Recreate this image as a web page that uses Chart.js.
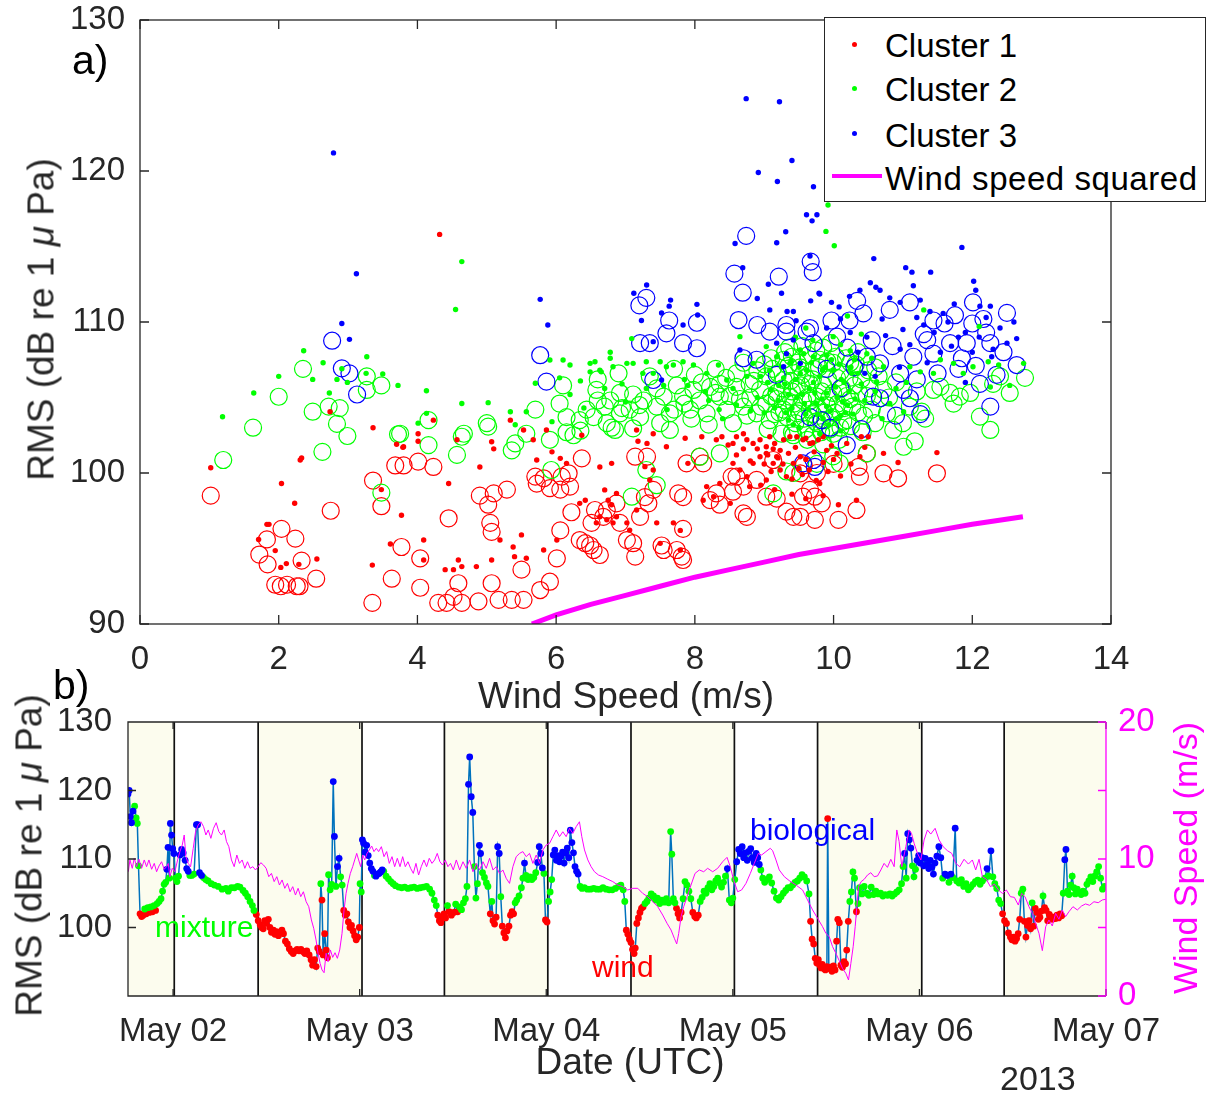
<!DOCTYPE html>
<html>
<head>
<meta charset="utf-8">
<title>RMS vs wind speed</title>
<script src="https://cdn.jsdelivr.net/npm/chart.js@4.4.1/dist/chart.umd.min.js"></script>
<style>
  html, body { margin:0; padding:0; background:#ffffff; }
  #page { position:relative; width:1208px; height:1093px; overflow:hidden; background:#fff;
          font-family:"Liberation Sans", Arial, Helvetica, sans-serif; color:#262626; }
  #page canvas { position:absolute; left:0; }
  .t { position:absolute; white-space:nowrap; line-height:1; }
  .rot { position:absolute; white-space:nowrap; line-height:1; text-align:center; transform:rotate(-90deg); }
  .dot { position:absolute; width:5px; height:5px; border-radius:50%; }
</style>
</head>
<body>
<div id="page">
  <canvas id="chartA" width="1208" height="720" style="top:0;width:1208px;height:720px"></canvas>
  <canvas id="chartB" width="1208" height="433" style="top:660px;width:1208px;height:433px"></canvas>

  <div class="t" style="left:72px;top:40px;font-size:41px;color:#000">a)</div>
  <div class="t" style="left:53px;top:665px;font-size:41px;color:#000">b)</div>

  <div class="rot" style="left:-209px;top:301px;width:500px;height:37px;font-size:37px;">RMS (dB re 1 <i>μ</i> Pa)</div>
  <div class="t" style="left:326px;top:677px;width:600px;text-align:center;font-size:37px;">Wind Speed (m/s)</div>

  <div class="rot" style="left:-221px;top:837px;width:500px;height:37px;font-size:37px;">RMS (dB re 1 <i>μ</i> Pa)</div>
  <div class="rot" style="left:935px;top:841px;width:500px;height:34px;font-size:34px;color:#ff00ff;">Wind Speed (m/s)</div>
  <div class="t" style="left:330px;top:1043px;width:600px;text-align:center;font-size:37px;">Date (UTC)</div>
  <div class="t" style="left:1000px;top:1061px;font-size:34px;">2013</div>

  <div class="t" style="left:155px;top:912px;font-size:30px;color:#00ff00;">mixture</div>
  <div class="t" style="left:592px;top:952px;font-size:30px;color:#ff0000;">wind</div>
  <div class="t" style="left:750px;top:815px;font-size:30px;color:#0000ff;">biological</div>

  <div style="position:absolute;left:824px;top:17px;width:382px;height:185px;box-sizing:border-box;border:1.3px solid #262626;background:#fff;"></div>
  <div class="dot" style="left:852px;top:42px;background:#ff0000;"></div>
  <div class="dot" style="left:852px;top:86px;background:#00ff00;"></div>
  <div class="dot" style="left:852px;top:131px;background:#0000ff;"></div>
  <div style="position:absolute;left:832px;top:174px;width:50px;height:4px;background:#ff00ff;"></div>
  <div class="t" style="left:885px;top:29px;font-size:33px;color:#000;">Cluster 1</div>
  <div class="t" style="left:885px;top:73px;font-size:33px;color:#000;">Cluster 2</div>
  <div class="t" style="left:885px;top:119px;font-size:33px;color:#000;">Cluster 3</div>
  <div class="t" style="left:885px;top:162px;font-size:33px;color:#000;letter-spacing:0.55px;">Wind speed squared</div>
</div>

<script>
// ================= DATA =================
// Panel a) : [wind speed (m/s), RMS (dB)]
const cluster1Dots = [[1.02,100.35],[2.04,99.3],[2.23,98.0],[2.31,100.86],[2.33,101.0],[1.83,96.6],[1.86,96.6],[1.71,95.6],[1.95,94.86],[2.03,93.75],[2.11,94.0],[2.29,93.95],[2.55,94.3],[2.74,104.06],[3.36,103.0],[3.35,93.9],[3.7,101.9],[3.79,101.7],[3.48,98.9],[3.77,97.2],[3.61,95.3],[4.01,102.6],[4.01,102.1],[4.32,115.8],[4.23,103.5],[3.8,101.74],[4.57,102.2],[5.07,102.07],[5.1,101.6],[5.34,103.5],[4.9,100.4],[4.45,99.3],[4.09,95.56],[4.09,94.24],[4.4,93.6],[4.52,93.6],[4.59,94.24],[4.64,93.8],[4.85,93.8],[5.07,94.24],[5.19,95.56],[5.38,95.1],[5.4,94.46],[5.5,95.9],[5.57,94.35],[5.53,102.85],[5.67,102.2],[5.86,102.85],[5.94,101.4],[5.72,100.86],[6.06,100.97],[6.15,100.64],[5.82,94.9],[6.01,95.56],[6.37,102.5],[6.34,97.99],[6.42,98.2],[6.63,100.4],[6.8,100.64],[6.7,98.88],[6.87,98.65],[6.75,98.2],[6.8,97.9],[6.63,97.1],[6.73,96.9],[6.82,96.7],[6.58,96.7],[6.87,97.1],[7.02,96.7],[7.06,96.22],[7.16,97.55],[7.16,102.85],[7.18,102.1],[7.31,101.96],[7.4,102.6],[7.59,101.74],[7.28,100.42],[7.4,100.2],[7.35,99.54],[7.45,96.7],[7.69,96.7],[7.79,96.2],[7.5,95.34],[7.79,94.9],[7.86,102.3],[7.9,100.64],[8.1,102.4],[8.17,99.1],[8.12,98.2],[8.31,102.2],[8.39,102.4],[8.48,101.85],[8.55,101.96],[8.6,102.4],[8.7,102.6],[8.75,102.2],[8.84,101.96],[8.94,102.2],[9.03,101.74],[9.08,102.4],[9.15,101.96],[9.23,101.5],[9.28,102.2],[9.37,102.4],[9.47,102.4],[9.56,102.2],[9.66,101.96],[9.78,102.2],[8.55,100.64],[8.65,100.2],[8.75,99.76],[8.84,100.64],[8.94,101.08],[9.03,101.3],[9.13,100.64],[9.23,100.2],[9.32,99.76],[9.42,100.64],[9.52,101.08],[9.13,101.6],[9.18,101.08],[9.03,99.54],[8.79,99.1],[8.36,99.3],[8.27,98.43],[8.51,97.99],[10.4,102.4],[10.5,102.4],[10.72,101.3],[11.49,101.35],[10.93,100.7],[10.33,98.2],[10.07,97.9],[9.8,99.3],[9.6,102.3],[9.7,102.0],[9.85,102.4],[10.19,101.96],[10.38,101.08],[9.9,101.5],[10.0,100.9],[8.6,101.2],[8.7,101.6],[8.8,100.8],[8.9,101.6],[9.0,100.6],[9.05,101.2],[9.1,100.1],[9.2,101.0],[9.27,100.6],[9.35,101.3],[9.4,99.6],[9.45,101.7],[9.5,100.3],[9.55,99.9],[9.6,100.9],[9.65,100.2],[9.72,101.4],[9.75,99.5],[9.85,100.7],[9.92,100.1],[9.97,101.8],[10.05,101.3],[10.1,99.8],[10.25,100.6],[10.45,101.7],[8.95,99.2],[9.15,98.9],[9.4,98.6],[9.6,98.3],[9.85,98.5]];

const cluster1Circles = [[1.02,98.5],[2.04,96.3],[2.24,95.65],[1.83,95.6],[1.72,94.6],[1.84,93.95],[2.33,94.2],[1.95,92.6],[2.03,92.5],[2.12,92.6],[2.26,92.5],[2.3,92.5],[2.54,93.0],[2.75,97.5],[3.35,91.4],[3.36,99.5],[3.48,97.8],[3.63,93.0],[3.77,95.1],[3.68,100.5],[3.8,100.5],[4.01,100.75],[4.04,94.35],[4.04,92.4],[4.23,100.4],[4.3,91.4],[4.42,91.4],[4.52,91.8],[4.64,91.4],[4.59,92.7],[4.45,97.0],[4.9,98.5],[5.1,98.65],[5.02,97.9],[5.29,98.9],[5.05,96.7],[5.07,96.1],[4.88,91.5],[5.07,92.7],[5.17,91.6],[5.36,91.6],[5.53,91.6],[5.5,93.6],[5.72,99.3],[5.7,99.76],[5.82,99.65],[5.91,99.0],[6.08,99.76],[6.18,99.98],[6.06,98.9],[6.2,99.1],[6.37,100.97],[5.77,92.25],[5.91,92.8],[6.01,94.35],[6.06,96.2],[6.22,97.4],[6.34,95.56],[6.42,95.35],[6.49,95.2],[6.54,94.9],[6.63,94.57],[6.68,97.1],[6.73,97.55],[6.56,97.55],[6.51,96.7],[6.87,97.99],[6.92,96.7],[7.02,95.56],[7.11,95.35],[7.14,94.46],[7.21,97.1],[7.33,97.99],[7.4,98.88],[7.14,101.08],[7.31,101.08],[7.28,98.4],[7.52,95.2],[7.55,94.9],[7.74,94.9],[7.81,94.46],[7.83,94.24],[7.83,96.3],[7.88,100.64],[7.76,98.65],[7.83,98.4],[8.07,101.08],[8.12,100.64],[8.22,98.2],[8.36,97.9],[8.31,98.65],[8.53,99.76],[8.55,98.76],[8.7,99.1],[8.7,97.33],[8.75,97.1],[8.89,99.54],[9.03,98.43],[9.18,98.3],[9.32,97.44],[9.42,97.1],[9.13,100.86],[9.52,99.98],[9.66,98.88],[9.73,98.43],[8.6,99.76],[10.36,100.4],[10.38,99.76],[10.48,101.3],[10.72,99.98],[10.93,99.65],[11.49,99.98],[10.33,97.55],[10.07,96.9],[9.73,96.9],[9.83,97.99],[9.56,98.43],[9.52,97.1],[9.57,100.5],[9.76,100.0],[10.0,100.6]];

const cluster2Dots = [[1.19,103.73],[1.64,105.3],[2.0,106.4],[2.36,108.1],[2.64,107.3],[2.49,106.2],[2.73,105.3],[2.84,106.2],[2.91,106.9],[2.99,106.0],[3.27,107.7],[3.26,106.6],[3.5,106.56],[3.72,105.8],[4.01,103.3],[4.64,114.0],[4.55,110.83],[9.92,117.75],[9.89,116.0],[10.01,115.05],[11.3,110.8],[12.1,109.7],[4.13,105.45],[4.13,103.95],[4.64,104.6],[5.02,104.66],[5.34,104.06],[5.41,103.2],[5.57,104.06],[5.7,105.94],[5.91,107.48],[5.94,103.4],[6.1,107.48],[6.2,107.15],[6.49,107.26],[6.49,106.7],[6.56,107.37],[6.63,106.8],[6.78,108.0],[6.78,107.6],[6.82,107.04],[7.02,107.26],[7.09,108.9],[7.11,107.26],[7.3,107.37],[7.4,106.6],[7.5,107.37],[7.59,107.04],[7.69,107.15],[7.83,107.37],[7.98,107.15],[8.17,106.6],[8.34,107.15],[8.46,106.16],[8.65,109.03],[8.75,106.4],[8.84,107.26],[9.03,108.37],[9.08,106.8],[9.18,107.7],[9.28,106.3],[9.37,107.26],[9.52,108.15],[9.61,106.8],[9.71,107.7],[9.1,105.5],[9.2,104.8],[9.3,105.9],[9.4,104.3],[9.45,106.2],[9.55,105.2],[9.6,103.9],[9.65,105.6],[9.75,104.6],[9.8,106.4],[9.85,103.6],[9.9,105.3],[9.95,104.1],[10.0,106.8],[10.05,105.0],[10.1,103.8],[10.15,106.0],[10.2,104.5],[9.35,103.5],[9.0,104.0],[8.9,105.0],[8.6,104.5],[8.4,103.6],[8.2,104.8],[7.9,105.8],[7.6,104.2],[7.3,105.6],[7.0,104.7],[6.7,105.6],[6.4,104.3],[6.2,105.2],[9.5,107.0],[9.9,107.8],[10.1,108.5],[9.7,108.8],[10.3,107.5],[9.995,109.03],[10.24,108.1],[10.48,107.9],[10.72,107.04],[10.81,104.6],[11.01,104.06],[11.1,107.04],[11.25,106.7],[11.44,106.6],[11.54,107.5],[11.73,107.26],[11.87,106.6],[12.01,107.04],[12.23,107.37],[12.26,105.7],[12.38,107.15],[12.54,105.8],[12.74,107.26],[10.62,106.05],[10.26,106.6],[9.05,106.0],[9.15,104.3],[9.25,107.0],[9.35,105.2],[9.42,103.2],[9.52,106.6],[9.58,104.6],[9.68,107.3],[9.73,105.3],[9.83,104.9],[9.88,107.0],[9.93,103.2],[10.03,105.7],[10.08,107.2],[10.13,104.7],[10.22,105.4],[10.28,103.9],[10.35,106.6],[10.45,104.8],[10.55,107.6],[10.6,105.4],[10.7,103.6],[10.9,105.6],[11.05,106.0],[8.95,106.4],[8.8,104.1],[8.55,105.6],[8.35,104.2],[8.15,105.4],[7.85,106.2],[7.55,105.8],[7.25,106.6],[6.95,105.9],[6.65,106.7],[6.35,106.1],[6.05,106.3],[9.6,109.6],[10.2,110.4],[9.45,109.0],[10.4,109.2],[9.21,105.8],[9.31,104.0],[9.39,107.4],[9.47,105.0],[9.57,107.9],[9.64,104.2],[9.71,106.0],[9.77,103.9],[9.84,106.8],[9.9,104.4],[9.97,107.5],[10.04,103.6],[10.11,106.2],[10.17,104.0],[10.25,107.0],[10.31,104.9],[10.4,105.9],[9.5,103.0],[9.8,102.6],[10.1,102.8]];

const cluster2Circles = [[1.2,100.86],[1.63,103.0],[2.0,105.05],[2.35,106.9],[2.49,104.06],[2.72,104.4],[2.88,104.3],[2.84,103.25],[2.99,102.45],[2.63,101.4],[3.27,106.4],[3.27,105.5],[3.48,105.8],[3.72,102.56],[3.48,98.7],[3.75,102.6],[4.16,103.5],[4.16,101.85],[4.57,101.2],[4.64,102.4],[4.67,102.6],[5.02,103.07],[5.0,103.3],[5.41,101.96],[5.36,101.5],[5.57,102.6],[5.7,104.2],[5.93,100.2],[5.91,102.2],[6.1,105.8],[6.15,102.7],[6.25,102.5],[6.15,103.7],[6.34,103.5],[6.44,104.2],[6.58,105.5],[6.54,103.7],[6.7,104.4],[6.78,104.8],[6.73,103.3],[6.85,102.85],[6.92,103.95],[6.92,105.3],[7.06,104.2],[7.11,105.2],[7.21,103.7],[7.11,102.96],[7.26,104.8],[7.35,106.4],[7.45,105.6],[7.45,104.4],[7.55,105.06],[7.64,103.95],[7.64,102.85],[7.74,105.8],[7.83,105.06],[7.93,104.2],[7.98,105.5],[8.07,104.8],[8.17,103.95],[8.22,105.7],[8.36,105.9],[8.36,105.06],[8.46,104.2],[8.5,105.1],[8.6,105.7],[8.55,103.3],[8.7,104.4],[8.79,105.9],[8.8,105.0],[8.89,103.95],[8.94,105.5],[9.03,106.4],[9.03,104.6],[9.08,103.5],[9.18,105.3],[9.28,106.16],[9.28,104.2],[9.37,105.06],[9.47,105.7],[9.47,103.95],[9.56,104.8],[9.66,105.9],[9.66,104.2],[9.76,105.06],[9.76,103.3],[7.3,100.2],[7.45,99.2],[7.09,98.43],[8.07,101.08],[8.36,101.3],[9.32,100.1],[9.13,98.65],[9.42,100.0],[9.52,107.0],[9.6,106.3],[9.8,107.5],[9.9,104.5],[9.995,107.3],[9.995,105.3],[10.1,103.0],[10.24,107.3],[10.24,104.9],[10.2,103.5],[10.4,106.2],[10.48,105.1],[10.72,105.5],[10.77,103.95],[10.86,102.85],[11.01,101.74],[11.17,102.1],[11.27,104.06],[11.32,103.6],[11.44,105.5],[11.54,105.7],[11.68,105.3],[11.73,104.6],[11.82,105.06],[11.97,105.3],[12.11,103.73],[12.26,102.85],[12.4,106.4],[12.54,105.3],[12.76,106.3],[12.3,105.9],[10.09,100.64],[10.48,101.3],[9.76,100.6],[9.995,101.1],[9.1,107.6],[8.9,106.8],[8.6,106.6],[8.3,106.9],[8.0,106.5],[7.7,106.9],[6.9,106.6],[6.6,106.2],[10.6,107.0],[9.3,108.0],[9.7,102.5],[9.4,102.7],[8.45,106.3],[8.65,104.9],[8.75,103.8],[8.85,106.1],[8.95,104.4],[9.05,102.9],[9.1,105.1],[9.15,103.9],[9.2,106.6],[9.25,102.6],[9.3,104.8],[9.35,107.1],[9.4,105.4],[9.45,103.3],[9.5,104.1],[9.55,106.5],[9.6,102.9],[9.62,105.0],[9.7,103.9],[9.72,106.9],[9.78,104.3],[9.82,102.7],[9.85,105.8],[9.88,103.5],[9.92,106.2],[9.95,102.9],[10.02,104.0],[10.05,106.3],[10.08,102.2],[10.12,105.6],[10.15,104.3],[10.18,107.6],[10.25,103.1],[10.3,105.8],[10.35,104.0],[10.42,102.7],[10.5,106.8],[10.55,104.2],[10.6,103.3],[10.65,106.4],[10.8,105.0],[10.9,106.0],[11.0,103.3],[11.1,104.4],[11.2,105.4],[8.3,105.3],[8.2,103.2],[8.1,106.0],[7.95,103.6],[7.85,104.6],[7.7,104.2],[7.5,103.3],[7.2,104.5],[6.95,104.3],[6.8,103.0],[6.6,104.8],[6.35,102.8],[6.05,104.6],[9.0,107.2],[9.4,107.7],[9.85,108.3],[10.35,108.0],[8.7,107.3],[9.22,104.0],[9.28,107.5],[9.33,103.7],[9.38,106.1],[9.43,104.6],[9.48,107.3],[9.53,105.8],[9.58,103.6],[9.63,107.8],[9.67,104.8],[9.7,106.2],[9.74,103.4],[9.79,107.0],[9.83,105.4],[9.87,104.0],[9.91,107.4],[9.94,105.0],[9.98,103.7],[10.03,107.7],[10.06,104.6],[10.1,106.7],[10.14,103.4],[10.19,105.1],[10.23,106.3],[10.27,104.4],[10.32,107.2],[10.37,105.3],[10.44,103.8],[10.52,105.6],[9.12,106.9],[9.18,104.9],[9.26,105.6],[9.36,108.3],[9.55,108.4],[9.75,108.1],[9.96,108.6],[9.42,102.5],[9.62,102.2],[9.85,101.9],[10.0,102.6]];

const cluster3Dots = [[2.79,121.2],[3.12,113.2],[2.91,109.9],[3.02,108.85],[8.74,124.79],[9.22,124.59],[9.4,120.7],[8.915,119.9],[9.19,119.3],[9.71,118.96],[9.61,117.1],[9.76,117.1],[9.69,116.7],[9.31,115.98],[8.58,115.2],[9.18,115.25],[8.69,113.6],[9.06,112.5],[9.25,111.9],[8.9,111.56],[9.67,111.4],[9.33,110.7],[9.42,110.7],[9.08,110.8],[8.03,111.17],[7.65,111.45],[7.305,112.45],[7.12,111.9],[7.63,111.05],[7.52,110.6],[7.23,110.1],[5.77,111.5],[5.88,109.8],[7.83,109.8],[8.04,110.46],[9.46,110.08],[9.66,114.37],[9.79,111.9],[11.85,114.94],[10.58,114.2],[11.04,113.6],[11.13,113.3],[11.4,113.3],[12.02,112.7],[12.05,112.1],[10.53,112.6],[10.61,112.3],[10.67,112.1],[9.8,111.85],[10.23,111.7],[10.38,112.1],[9.97,111.3],[11.15,112.4],[11.25,111.45],[11.74,111.2],[12.11,111.05],[12.26,111.05],[10.08,111.0],[10.81,111.6],[10.96,111.3],[11.39,110.7],[11.58,110.57],[7.4,108.7],[7.52,106.16],[8.65,108.15],[9.18,108.6],[9.32,107.9],[9.42,108.8],[9.52,107.26],[9.28,107.04],[12.64,108.9],[12.28,107.7],[11.54,108.0],[10.96,108.2],[10.48,109.0],[10.24,109.3],[10.7,110.2],[11.0,109.5],[11.3,109.8],[11.9,109.3],[12.4,109.6],[12.2,110.3],[10.1,110.2],[9.9,109.6],[11.7,108.4],[12.0,108.0],[10.35,108.0],[10.6,106.4],[10.75,109.1],[11.1,108.5],[11.2,110.3],[11.45,109.3],[11.65,110.0],[11.8,109.0],[12.1,109.0],[12.3,108.2],[12.5,108.6],[12.6,110.0],[10.45,106.6],[10.95,107.0],[11.35,107.3],[11.9,106.0]];

const cluster3Circles = [[2.77,108.76],[2.91,106.93],[3.02,106.6],[3.13,105.2],[8.74,115.7],[8.57,113.2],[8.69,111.94],[9.21,113.0],[9.67,114.0],[9.7,113.3],[7.2,111.1],[7.3,111.6],[7.63,110.1],[8.03,109.95],[8.63,110.13],[8.9,109.8],[9.32,109.8],[9.66,109.6],[10.34,111.4],[11.1,111.3],[12.01,111.3],[11.75,110.45],[9.97,110.1],[10.23,110.1],[10.43,110.57],[10.81,110.8],[11.44,110.1],[12.16,110.2],[5.77,107.8],[5.86,106.05],[7.21,108.6],[7.35,108.6],[7.59,109.25],[7.83,108.6],[8.03,108.26],[7.4,106.16],[8.7,107.6],[8.89,107.5],[9.08,109.36],[9.32,109.36],[9.61,109.36],[9.18,106.5],[9.71,100.86],[9.56,100.64],[9.66,103.7],[9.71,108.6],[10.05,109.03],[10.48,107.7],[10.67,107.26],[10.57,105.06],[10.67,104.95],[11.1,104.95],[11.01,105.5],[10.96,106.6],[11.15,107.7],[11.44,107.9],[11.68,108.6],[11.92,108.6],[12.26,108.6],[12.11,105.9],[12.26,104.4],[12.64,107.15],[12.35,106.5],[9.83,103.5],[10.19,101.85],[9.73,100.4],[9.9,106.9],[10.2,108.3],[11.3,109.2],[12.0,109.9],[11.8,106.9],[10.3,107.0],[10.55,108.8],[10.85,108.4],[11.2,106.2],[11.35,108.8],[11.5,106.6],[11.6,109.9],[11.85,107.6],[12.05,107.1],[12.2,109.3],[12.45,108.0],[12.5,110.6],[10.9,103.8],[11.25,103.9],[10.1,105.6],[9.95,103.0],[10.4,102.9]];

// "Wind speed squared" curve
const windSqSpeed = [5.65, 6.0, 6.5, 7.0, 7.5, 8.0, 8.5, 9.0, 9.5, 10.0, 10.5, 11.0, 11.5, 12.0, 12.73];
const windSqRms   = [90.0, 90.6, 91.3, 91.9, 92.5, 93.1, 93.6, 94.1, 94.6, 95.0, 95.4, 95.8, 96.2, 96.6, 97.1];

// Panel b) : time axis in hours since 2013-05-01 00:00 UTC
const dayTickHours  = [24, 48, 72, 96, 120, 144];
const dayTickLabels = ['May 02', 'May 03', 'May 04', 'May 05', 'May 06', 'May 07'];
const nightSpans    = [[18.2, 24.15], [34.94, 48.3], [58.9, 72.2], [82.9, 96.2], [106.9, 120.3], [130.9, 144]];
const dayNightLines = [24.15, 34.94, 48.3, 58.9, 72.2, 82.9, 96.2, 106.9, 120.3, 130.9];

// [hour, RMS dB, cluster]
const rmsMay01 = [[18.2,119.5,3],[18.35,120.0,3],[18.5,116.2,3],[18.65,115.3,3],[18.85,117.0,3],[19.05,117.7,2],[19.25,116.0,2],[19.4,115.2,2],[19.55,109.0,2],[19.75,102.0,1],[19.95,101.6,1],[20.15,101.8,1],[20.35,102.7,2],[20.55,102.0,1],[20.75,102.9,2],[20.95,102.2,1],[21.15,103.0,2],[21.35,102.3,1],[21.55,103.2,2],[21.75,102.5,1],[21.95,103.5,2],[22.2,103.8,2],[22.45,104.2,2],[22.65,105.3,2],[22.85,106.3,2],[23.05,106.6,2],[23.2,108.5,3],[23.35,111.7,3],[23.5,107.2,2],[23.65,115.2,3],[23.8,113.5,3],[23.95,111.5,3]];
const rmsMay02 = [[24.1,110.8,3],[24.3,107.2,2],[24.5,106.7,2],[24.7,107.5,2],[24.9,110.6,3],[25.1,111.4,3],[25.3,110.9,3],[25.55,109.8,3],[25.75,108.6,3],[25.95,108.2,3],[26.15,107.6,2],[26.4,107.6,2],[26.7,107.8,2],[27.0,115.0,3],[27.15,115.0,3],[27.4,108.0,3],[27.66,107.6,3],[27.9,107.3,2],[28.2,107.0,2],[28.5,106.8,2],[28.9,106.4,2],[29.3,106.2,2],[29.8,106.0,2],[30.3,105.6,2],[30.8,105.7,2],[31.1,105.3,2],[31.5,105.8,2],[31.9,105.8,2],[32.3,106.0,2],[32.6,105.9,2],[33.0,105.4,2],[33.3,105.0,2],[33.6,104.5,2],[33.9,103.8,2],[34.2,103.2,2],[34.4,102.5,2],[34.7,101.9,1],[34.95,101.0,1],[35.2,100.4,1],[35.4,100.0,1],[35.6,99.8,1],[35.8,101.0,1],[36.0,100.6,1],[36.25,101.2,1],[36.45,100.0,1],[36.65,99.3,1],[36.9,99.6,1],[37.1,99.0,1],[37.3,99.4,1],[37.55,98.8,1],[37.8,99.3,1],[38.0,99.6,1],[38.2,99.1,1],[38.45,98.0,1],[38.7,97.6,1],[38.95,96.9,1],[39.2,96.5,1],[39.45,96.2,1],[39.7,96.6,1],[39.95,96.8,1],[40.2,96.6,1],[40.45,96.8,1],[40.7,96.5,1],[40.95,96.2,1],[41.2,96.6,1],[41.5,96.0,1],[41.75,95.3,1],[41.95,94.5,1],[42.2,95.3,1],[42.4,94.3,1],[42.6,97.0,1],[42.8,96.5,1],[43.0,106.4,2],[43.15,104.0,1],[43.3,96.0,1],[43.5,99.1,1],[43.7,96.7,1],[43.85,95.6,1],[44.0,107.7,2],[44.2,105.5,2],[44.4,106.3,2],[44.6,121.3,3],[44.75,113.3,3],[44.95,106.0,2],[45.15,108.9,3],[45.35,110.1,3],[45.55,107.4,2],[45.75,106.2,2],[45.95,102.5,1],[46.15,101.8,1],[46.35,102.0,1],[46.55,100.8,1],[46.75,100.0,1],[46.95,100.3,1],[47.15,99.5,1],[47.35,98.8,1],[47.55,98.2,1],[47.75,98.6,1],[47.95,100.0,1]];
const rmsMay03 = [[48.05,106.4,2],[48.2,105.2,2],[48.35,112.8,3],[48.5,112.3,3],[48.7,111.0,3],[48.9,112.0,3],[49.1,110.5,3],[49.3,109.4,3],[49.5,108.6,3],[49.7,108.2,3],[49.9,107.6,2],[50.1,107.5,3],[50.3,107.8,3],[50.5,107.9,3],[50.7,108.1,3],[50.9,108.4,3],[51.1,108.2,2],[51.4,107.5,2],[51.7,107.1,2],[52.0,106.7,2],[52.3,106.4,2],[52.6,106.1,2],[53.0,105.9,2],[53.4,105.8,2],[53.8,105.9,2],[54.2,105.7,2],[54.6,105.8,2],[55.0,105.9,2],[55.4,105.7,2],[55.8,105.8,2],[56.2,105.9,2],[56.6,106.0,2],[57.0,105.6,2],[57.3,105.0,2],[57.6,104.0,2],[57.85,103.2,2],[58.05,101.8,1],[58.25,101.0,1],[58.45,100.7,1],[58.65,101.5,1],[58.85,102.0,1],[59.05,101.4,1],[59.3,103.2,2],[59.5,102.3,1],[59.8,101.8,1],[60.1,102.2,1],[60.35,103.4,2],[60.6,102.3,1],[60.85,103.0,2],[61.1,102.6,2],[61.35,103.6,2],[61.6,104.2,2],[61.8,106.0,2],[62.0,120.9,3],[62.15,124.9,3],[62.35,119.1,3],[62.55,116.8,3],[62.75,108.9,2],[62.95,104.3,2],[63.15,106.4,2],[63.4,112.0,3],[63.55,110.8,3],[63.8,108.0,2],[64.05,107.3,2],[64.3,106.5,2],[64.5,106.0,2],[64.8,102.0,1],[65.0,103.8,2],[65.15,101.0,1],[65.35,100.5,1],[65.55,101.5,1],[65.75,111.8,3],[65.95,110.8,3],[66.15,104.5,2],[66.35,100.2,1],[66.55,99.2,1],[66.75,98.5,1],[66.95,99.5,1],[67.2,100.2,1],[67.4,101.8,1],[67.6,102.3,1],[67.8,102.0,1],[68.0,103.6,2],[68.2,104.0,2],[68.5,104.6,2],[68.8,105.8,2],[69.0,107.2,2],[69.2,109.4,3],[69.4,107.6,2],[69.65,107.0,2],[69.9,107.4,2],[70.15,107.0,2],[70.4,107.3,2],[70.65,108.0,2],[70.9,109.5,3],[71.1,111.8,3],[71.3,110.8,3],[71.5,108.7,3],[71.7,107.9,2],[71.9,101.1,1]];
const rmsMay04 = [[72.1,100.8,1],[72.3,103.8,2],[72.5,105.2,2],[72.7,107.0,2],[72.9,110.6,3],[73.1,111.3,3],[73.3,109.8,3],[73.5,110.5,3],[73.7,109.6,3],[73.9,110.4,3],[74.1,111.0,3],[74.3,109.4,3],[74.5,110.9,3],[74.7,111.6,3],[74.9,110.2,3],[75.1,114.2,3],[75.3,112.4,3],[75.5,110.9,3],[75.7,108.9,3],[75.9,108.2,3],[76.1,107.8,3],[76.35,106.0,2],[76.6,105.7,2],[76.9,105.8,2],[77.3,105.6,2],[77.7,105.6,2],[78.1,105.7,2],[78.5,105.6,2],[78.9,105.6,2],[79.3,105.8,2],[79.7,105.6,2],[80.1,105.5,2],[80.5,105.5,2],[80.9,105.7,2],[81.3,106.0,2],[81.6,106.2,2],[81.9,105.5,2],[82.1,103.8,2],[82.3,99.6,1],[82.5,99.0,1],[82.7,98.3,1],[82.9,97.8,1],[83.1,96.8,1],[83.3,96.2,1],[83.45,97.0,1],[83.65,100.6,1],[83.85,101.4,1],[84.05,102.2,1],[84.25,102.8,1],[84.45,103.0,1],[84.7,103.5,2],[84.95,103.8,2],[85.2,104.3,2],[85.5,104.9,2],[85.8,104.6,2],[86.05,104.0,2],[86.3,104.3,2],[86.6,103.5,2],[86.9,104.0,2],[87.2,103.7,2],[87.45,104.2,2],[87.75,103.6,2],[88.0,114.0,2],[88.15,110.7,2],[88.35,104.2,2],[88.55,103.6,2],[88.75,102.8,1],[88.95,102.0,1],[89.15,101.4,1],[89.35,102.2,1],[89.6,104.2,2],[89.85,106.7,2],[90.1,106.2,2],[90.35,105.3,2],[90.6,104.2,2],[90.85,102.2,1],[91.1,101.6,1],[91.3,101.4,1],[91.55,101.8,1],[91.8,103.8,2],[92.05,104.4,2],[92.3,105.3,2],[92.55,105.0,2],[92.8,105.8,2],[93.05,106.4,2],[93.3,105.5,2],[93.55,106.0,2],[93.8,106.8,2],[94.05,107.2,2],[94.3,106.5,2],[94.55,105.9,2],[94.8,106.6,2],[95.05,107.5,2],[95.3,108.6,3],[95.55,104.0,2],[95.8,103.6,2]];
const rmsMay05 = [[96.0,104.3,2],[96.25,107.0,2],[96.5,109.6,3],[96.75,111.4,3],[96.95,110.8,3],[97.2,111.8,3],[97.4,110.2,3],[97.6,110.9,3],[97.85,109.8,3],[98.05,111.1,3],[98.3,111.5,3],[98.5,110.2,3],[98.75,109.5,3],[99.0,110.8,3],[99.2,110.2,3],[99.4,109.2,3],[99.6,108.4,2],[99.85,107.2,2],[100.1,106.6,2],[100.4,107.0,2],[100.7,107.4,2],[101.0,106.5,2],[101.3,105.3,2],[101.6,104.3,2],[101.9,104.0,2],[102.2,104.5,2],[102.5,105.0,2],[102.8,105.4,2],[103.1,105.8,2],[103.4,105.8,2],[103.7,106.2,2],[104.0,106.6,2],[104.3,106.8,2],[104.6,107.2,2],[104.9,107.7,2],[105.2,107.4,2],[105.5,106.8,2],[105.8,104.9,2],[106.0,100.9,1],[106.2,98.3,1],[106.4,97.6,1],[106.6,95.5,1],[106.8,94.8,1],[107.0,95.3,1],[107.2,94.5,1],[107.35,94.1,1],[107.5,94.6,1],[107.7,94.0,1],[107.9,93.8,1],[108.1,94.3,1],[108.2,115.9,1],[108.35,94.0,1],[108.55,94.2,1],[108.75,93.6,1],[108.95,94.4,1],[109.15,93.8,1],[109.35,98.0,1],[109.5,101.2,1],[109.7,100.7,1],[109.9,94.5,1],[110.1,94.2,1],[110.3,95.0,1],[110.5,94.7,1],[110.65,96.7,1],[110.85,100.9,1],[111.05,103.8,2],[111.25,105.2,2],[111.45,108.1,2],[111.65,107.2,2],[111.9,102.3,1],[112.1,103.5,2],[112.3,105.8,2],[112.6,104.9,2],[112.9,106.0,2],[113.2,105.0,2],[113.5,104.7,2],[113.8,105.9,2],[114.1,104.8,2],[114.4,105.3,2],[114.7,104.9,2],[115.0,105.0,2],[115.3,104.6,2],[115.6,104.8,2],[115.9,104.7,2],[116.2,104.9,2],[116.5,104.6,2],[116.8,104.9,2],[117.1,105.2,2],[117.4,105.5,2],[117.7,106.4,2],[117.9,108.9,2],[118.1,110.8,3],[118.3,107.2,2],[118.5,113.7,3],[118.7,112.8,3],[118.9,111.6,3],[119.1,109.0,2],[119.3,107.4,2],[119.5,108.5,2],[119.7,109.8,3],[119.9,110.5,3]];
const rmsMay06 = [[120.1,109.4,3],[120.35,110.2,3],[120.55,109.0,3],[120.75,110.1,3],[121.0,109.2,3],[121.2,108.6,3],[121.4,109.8,3],[121.6,108.8,3],[121.8,107.8,3],[122.0,109.4,3],[122.25,110.4,3],[122.5,111.8,3],[122.75,110.2,3],[123.0,107.2,2],[123.3,107.8,3],[123.55,107.6,3],[123.8,106.6,2],[124.05,107.8,3],[124.3,107.3,2],[124.6,114.5,3],[124.8,106.8,2],[125.1,106.5,2],[125.4,107.0,2],[125.7,106.0,2],[126.0,106.4,2],[126.3,105.5,2],[126.6,105.9,2],[126.9,106.3,2],[127.2,106.7,2],[127.5,106.9,2],[127.8,106.3,2],[128.1,106.8,2],[128.4,107.2,2],[128.7,108.6,3],[128.9,107.5,2],[129.2,111.2,3],[129.45,107.4,2],[129.7,106.4,2],[129.95,105.7,2],[130.2,104.0,2],[130.45,103.5,2],[130.7,102.0,1],[130.95,101.0,1],[131.2,100.6,1],[131.45,99.2,1],[131.7,98.6,1],[131.9,98.2,1],[132.1,98.6,1],[132.3,98.0,1],[132.5,98.4,1],[132.7,99.1,1],[132.9,101.2,1],[133.1,105.0,2],[133.3,105.6,2],[133.5,100.9,1],[133.7,98.6,1],[133.9,100.3,1],[134.1,101.0,1],[134.3,99.8,1],[134.5,103.6,2],[134.7,100.2,1],[134.9,102.8,1],[135.1,102.2,1],[135.3,101.2,1],[135.5,101.5,1],[135.7,102.4,1],[135.9,104.6,2],[136.1,102.9,1],[136.3,102.5,1],[136.5,101.0,1],[136.7,101.9,1],[136.9,101.6,1],[137.1,101.2,1],[137.3,101.5,1],[137.5,101.3,1],[137.7,101.8,1],[137.9,101.4,1],[138.1,102.0,1],[138.3,101.7,1],[138.5,105.0,2],[138.7,109.9,3],[138.85,111.4,3],[139.05,105.3,2],[139.25,104.8,2],[139.45,106.2,2],[139.65,107.5,2],[139.85,105.8,2],[140.05,104.9,2],[140.3,105.6,2],[140.55,105.1,2],[140.8,104.8,2],[141.05,105.3,2],[141.3,105.0,2],[141.55,106.3,2],[141.8,106.8,2],[142.05,107.4,2],[142.3,106.7,2],[142.55,107.5,2],[142.8,108.1,2],[143.05,108.9,2],[143.3,107.2,2],[143.55,105.6,2],[143.8,106.0,2]];

// [hour, wind speed m/s]
const windMay01 = [[18.24,9.07],[18.45,9.93],[18.75,9.32],[19.0,10.05],[19.31,9.44],[19.61,9.98],[19.95,9.32],[20.29,9.93],[20.59,9.44],[20.89,9.93],[21.24,9.25],[21.58,9.68],[21.88,9.07],[22.18,9.49],[22.52,9.8],[22.86,9.25],[23.16,9.44],[23.38,9.68],[23.59,8.71],[23.89,9.32]];
const windMay02 = [[24.23,9.07],[24.58,9.93],[24.88,10.54],[25.18,11.02],[25.43,11.75],[25.65,10.17],[25.95,9.68],[26.25,9.44],[26.59,10.78],[26.89,11.99],[27.23,12.48],[27.57,12.72],[27.92,12.36],[28.22,11.75],[28.52,12.12],[28.86,11.51],[29.2,12.24],[29.54,12.65],[29.89,11.99],[30.23,11.75],[30.57,12.12],[30.87,11.27],[31.17,10.9],[31.51,9.93],[31.86,9.44],[32.2,10.29],[32.54,9.68],[32.88,9.93],[33.23,9.32],[33.57,9.8],[33.91,9.32],[34.26,9.44],[34.6,9.2],[34.94,9.44],[35.28,9.73],[35.63,9.56],[35.97,9.32],[36.31,8.71],[36.65,8.95],[37.0,8.35],[37.34,8.71],[37.68,8.1],[38.02,8.47],[38.37,7.86],[38.71,8.22],[39.05,7.61],[39.39,7.98],[39.74,7.37],[40.08,7.86],[40.42,7.25],[40.76,7.61],[41.11,6.89],[41.45,6.52],[41.79,5.55],[42.09,4.94],[42.39,4.09],[42.65,3.11],[42.91,2.38],[43.16,1.9],[43.42,1.7],[43.68,3.11],[43.93,2.5],[44.23,3.36],[44.53,2.82],[44.83,3.16],[45.13,2.75],[45.43,3.36],[45.73,4.57],[45.99,6.27],[46.25,7.49],[46.5,8.22],[46.8,8.95],[47.1,9.44],[47.36,9.93],[47.62,10.41],[47.87,9.93]];
const windMay03 = [[48.13,9.44],[48.39,10.29],[48.65,9.93],[48.94,10.41],[49.24,10.66],[49.54,10.95],[49.84,10.54],[50.14,10.78],[50.44,10.54],[50.79,10.9],[51.13,10.17],[51.47,10.54],[51.81,9.68],[52.16,10.17],[52.5,9.44],[52.84,10.05],[53.19,9.44],[53.53,10.17],[53.87,9.44],[54.21,9.8],[54.55,9.32],[54.9,8.95],[55.24,9.68],[55.58,8.83],[55.92,9.44],[56.27,9.93],[56.61,9.44],[56.95,10.05],[57.3,9.68],[57.64,9.93],[57.98,10.41],[58.32,9.8],[58.67,9.56],[59.01,9.93],[59.35,9.44],[59.69,9.68],[60.04,9.2],[60.43,9.93],[60.86,9.2],[61.29,9.8],[61.71,9.32],[62.14,9.93],[62.57,9.07],[63.0,9.68],[63.43,9.2],[63.86,9.8],[64.28,9.32],[64.71,10.05],[65.14,9.2],[65.57,9.44],[65.99,8.95],[66.42,9.2],[66.85,8.59],[67.28,8.22],[67.71,9.44],[68.14,10.17],[68.57,10.41],[68.99,10.54],[69.42,10.17],[69.85,10.41],[70.28,9.68],[70.71,10.29],[71.14,9.68],[71.56,10.66],[71.99,11.02]];
const windMay04 = [[72.42,11.14],[72.85,11.63],[73.28,12.12],[73.71,11.63],[74.13,11.99],[74.56,11.63],[74.99,12.24],[75.42,11.87],[75.85,12.36],[76.27,12.72],[76.57,11.63],[76.92,10.66],[77.35,9.93],[77.77,9.44],[78.2,9.07],[78.72,8.83],[79.27,8.71],[79.92,8.52],[80.56,8.35],[81.2,8.1],[81.84,7.98],[82.48,7.74],[83.13,7.86],[83.77,7.86],[84.41,7.49],[85.05,7.25],[85.7,6.89],[86.34,6.52],[86.98,5.91],[87.54,5.3],[88.05,4.82],[88.48,4.21],[88.78,3.8],[89.04,4.57],[89.34,5.79],[89.68,6.52],[90.11,7.25],[90.62,8.1],[91.14,8.95],[91.69,9.2],[92.25,9.07],[92.76,9.32],[93.41,9.07],[94.05,9.32],[94.69,9.8],[95.25,10.12],[95.67,9.44]];
const windMay05 = [[96.1,8.47],[96.62,7.61],[97.13,7.74],[97.69,8.22],[98.25,8.95],[98.76,9.68],[99.27,10.41],[99.7,10.29],[100.26,10.54],[100.81,10.78],[101.12,10.61],[101.55,9.93],[101.97,9.2],[102.62,8.71],[103.26,8.42],[104.12,8.1],[104.97,7.74],[105.61,7.01],[106.26,6.28],[106.9,5.67],[107.54,5.06],[107.97,4.57],[108.4,4.33],[108.83,3.6],[109.26,3.11],[109.68,2.58],[110.11,2.02],[110.54,1.65],[110.88,1.17],[111.18,2.38],[111.48,3.6],[111.74,5.06],[111.95,6.52],[112.17,7.98],[112.51,8.35],[112.9,8.52],[113.32,8.83],[113.75,9.0],[114.18,8.71],[114.61,8.76],[115.04,9.2],[115.46,9.68],[115.89,9.39],[116.32,9.98],[116.75,9.44],[117.09,12.12],[117.39,11.27],[117.73,9.44],[118.25,10.9],[118.68,12.12],[118.98,11.87],[119.32,11.14],[119.75,10.41]];
const windMay06 = [[120.18,9.93],[120.6,11.39],[121.03,12.12],[121.46,11.82],[122.02,12.24],[122.53,11.39],[123.05,10.9],[123.6,10.61],[124.16,10.41],[124.67,9.68],[125.19,9.44],[125.74,9.98],[126.3,9.63],[126.81,9.93],[127.24,9.2],[127.67,9.98],[128.1,8.71],[128.61,8.52],[129.13,7.98],[129.64,8.17],[130.16,7.74],[130.67,7.49],[131.18,7.74],[131.7,7.25],[132.21,7.2],[132.72,6.64],[133.15,7.49],[133.58,7.25],[134.09,6.52],[134.52,6.03],[134.95,5.3],[135.38,4.57],[135.81,3.31],[136.24,5.06],[136.66,5.55],[137.09,5.11],[137.52,6.03],[137.95,5.6],[138.38,6.28],[138.8,5.79],[139.23,6.15],[139.75,6.52],[140.31,6.28],[140.86,6.57],[141.37,6.72],[141.89,6.62],[142.45,6.88],[143.0,6.81],[143.52,7.01],[143.94,7.06]];

// ================= RENDERING =================
const FONT = '"Liberation Sans", Arial, Helvetica, sans-serif';
const AX = '#262626';
const RED = '#ff0000', GREEN = '#00ff00', BLUE = '#0000ff', MAG = '#ff00ff', LINEBLUE = 'rgb(0,114,189)';
const toXY = arr => arr.map(p => ({x: p[0], y: p[1]}));
const fixV = w => s => { s.width = w; s.paddingTop = 0; s.paddingBottom = 0; };
const fixH = h => s => { s.height = h; s.paddingLeft = 0; s.paddingRight = 0; };

const dotSet = (arr, c) => ({ data: toXY(arr), pointStyle: 'circle', pointRadius: 2.7, pointHoverRadius: 2.7,
  pointBackgroundColor: c, pointBorderColor: c, pointBorderWidth: 0, showLine: false });
const ringSet = (arr, c) => ({ data: toXY(arr), pointStyle: 'circle', pointRadius: 8.5, pointHoverRadius: 8.5,
  pointBackgroundColor: 'rgba(0,0,0,0)', pointBorderColor: c, pointBorderWidth: 1.2, showLine: false });

const frameA = {
  id: 'frameA',
  afterDatasetsDraw(chart) {
    const {ctx, chartArea: a} = chart;
    const sx = chart.scales.x, sy = chart.scales.y;
    ctx.save();
    ctx.strokeStyle = AX; ctx.lineWidth = 1.3;
    ctx.beginPath();
    sx.ticks.forEach(t => { const p = sx.getPixelForValue(t.value);
      ctx.moveTo(p, a.bottom); ctx.lineTo(p, a.bottom - 9); ctx.moveTo(p, a.top); ctx.lineTo(p, a.top + 9); });
    sy.ticks.forEach(t => { const p = sy.getPixelForValue(t.value);
      ctx.moveTo(a.left, p); ctx.lineTo(a.left + 9, p); ctx.moveTo(a.right, p); ctx.lineTo(a.right - 9, p); });
    ctx.stroke();
    ctx.strokeRect(a.left, a.top, a.right - a.left, a.bottom - a.top);
    ctx.restore();
  }
};

new Chart(document.getElementById('chartA'), {
  type: 'scatter',
  data: {
    datasets: [
      { data: windSqSpeed.map((v, i) => ({x: v, y: windSqRms[i]})), showLine: true, borderColor: MAG,
        borderWidth: 5, pointRadius: 0, pointHoverRadius: 0, fill: false, clip: 0 },
      dotSet(cluster3Dots, BLUE),
      dotSet(cluster2Dots, GREEN),
      dotSet(cluster1Dots, RED),
      ringSet(cluster3Circles, BLUE),
      ringSet(cluster2Circles, GREEN),
      ringSet(cluster1Circles, RED)
    ]
  },
  options: {
    responsive: false, animation: false, events: [],
    layout: { padding: { left: 0, top: 20, right: 97, bottom: 0 } },
    plugins: { legend: { display: false }, tooltip: { enabled: false } },
    scales: {
      x: { type: 'linear', min: 0, max: 14,
           ticks: { stepSize: 2, color: AX, font: { family: FONT, size: 33 }, padding: 16, maxRotation: 0 },
           grid: { display: false, drawTicks: false }, border: { display: false },
           afterFit: fixH(96) },
      y: { type: 'linear', min: 90, max: 130,
           ticks: { stepSize: 10, color: AX, font: { family: FONT, size: 33 }, padding: 15 },
           grid: { display: false, drawTicks: false }, border: { display: false },
           afterFit: fixV(140) }
    }
  },
  plugins: [frameA]
});

// ---------- panel b ----------
const rmsAll = [].concat(rmsMay01, rmsMay02, rmsMay03, rmsMay04, rmsMay05, rmsMay06);
const windAll = [].concat(windMay01, windMay02, windMay03, windMay04, windMay05, windMay06);
const clusterPts = c => rmsAll.filter(r => r[2] === c).map(r => ({x: r[0], y: r[1]}));
const bDots = (c, col) => ({ data: clusterPts(c), yAxisID: 'yL', showLine: false, pointStyle: 'circle',
  pointRadius: 3.4, pointHoverRadius: 3.4, pointBackgroundColor: col, pointBorderColor: col, pointBorderWidth: 0 });

const frameB = {
  id: 'frameB',
  beforeDatasetsDraw(chart) {
    const {ctx, chartArea: a} = chart;
    const sx = chart.scales.x;
    ctx.save();
    ctx.beginPath(); ctx.rect(a.left, a.top, a.right - a.left, a.bottom - a.top); ctx.clip();
    ctx.fillStyle = 'rgb(252,252,238)';
    nightSpans.forEach(([s, e]) => {
      const p0 = sx.getPixelForValue(s), p1 = sx.getPixelForValue(e);
      ctx.fillRect(p0, a.top, p1 - p0, a.bottom - a.top);
    });
    ctx.strokeStyle = '#111111'; ctx.lineWidth = 1.7;
    ctx.beginPath();
    dayNightLines.forEach(h => { const p = sx.getPixelForValue(h); ctx.moveTo(p, a.top); ctx.lineTo(p, a.bottom); });
    ctx.stroke();
    ctx.restore();
  },
  afterDatasetsDraw(chart) {
    const {ctx, chartArea: a} = chart;
    const sx = chart.scales.x, yl = chart.scales.yL, yr = chart.scales.yR;
    ctx.save();
    ctx.lineWidth = 1.3;
    ctx.strokeStyle = AX;
    ctx.beginPath();
    ctx.moveTo(a.right, a.top); ctx.lineTo(a.left, a.top); ctx.lineTo(a.left, a.bottom); ctx.lineTo(a.right, a.bottom);
    yl.ticks.forEach(t => { const p = yl.getPixelForValue(t.value); ctx.moveTo(a.left, p); ctx.lineTo(a.left + 8, p); });
    sx.ticks.forEach(t => { const p = sx.getPixelForValue(t.value);
      ctx.moveTo(p, a.bottom); ctx.lineTo(p, a.bottom - 7); ctx.moveTo(p, a.top); ctx.lineTo(p, a.top + 7); });
    ctx.stroke();
    ctx.strokeStyle = MAG;
    ctx.beginPath();
    ctx.moveTo(a.right, a.top); ctx.lineTo(a.right, a.bottom);
    yr.ticks.forEach(t => { const p = yr.getPixelForValue(t.value); ctx.moveTo(a.right, p); ctx.lineTo(a.right - 8, p); });
    ctx.stroke();
    ctx.restore();
  }
};

new Chart(document.getElementById('chartB'), {
  type: 'scatter',
  data: {
    datasets: [
      { data: toXY(windAll), yAxisID: 'yR', showLine: true, borderColor: MAG, borderWidth: 1,
        pointRadius: 0, pointHoverRadius: 0, fill: false, tension: 0 },
      bDots(3, BLUE),
      bDots(2, GREEN),
      bDots(1, RED),
      { data: rmsAll.map(r => ({x: r[0], y: r[1]})), yAxisID: 'yL', showLine: true, borderColor: LINEBLUE,
        borderWidth: 1.5, pointRadius: 0, pointHoverRadius: 0, fill: false, tension: 0 }
    ]
  },
  options: {
    responsive: false, animation: false, events: [],
    layout: { padding: { left: 0, top: 62, right: 0, bottom: 0 } },
    plugins: { legend: { display: false }, tooltip: { enabled: false } },
    scales: {
      x: { type: 'linear', min: 18.2, max: 144,
           afterBuildTicks: s => { s.ticks = dayTickHours.map(v => ({ value: v })); },
           ticks: { autoSkip: false, maxRotation: 0, color: AX, font: { family: FONT, size: 33 }, padding: 16,
                    callback: v => { const i = dayTickHours.indexOf(v); return i >= 0 ? dayTickLabels[i] : ''; } },
           grid: { display: false, drawTicks: false }, border: { display: false },
           afterFit: fixH(97) },
      yL: { type: 'linear', position: 'left', min: 90, max: 130,
            ticks: { stepSize: 10, color: AX, font: { family: FONT, size: 33 }, padding: 16,
                     callback: v => v === 90 ? '' : String(v) },
            grid: { display: false, drawTicks: false }, border: { display: false },
            afterFit: fixV(128) },
      yR: { type: 'linear', position: 'right', min: 0, max: 20,
            ticks: { stepSize: 5, color: MAG, font: { family: FONT, size: 33 }, padding: 12,
                     callback: v => v % 10 === 0 ? String(v) : '' },
            grid: { display: false, drawTicks: false }, border: { display: false },
            afterFit: fixV(102) }
    }
  },
  plugins: [frameB]
});
</script>
</body>
</html>
